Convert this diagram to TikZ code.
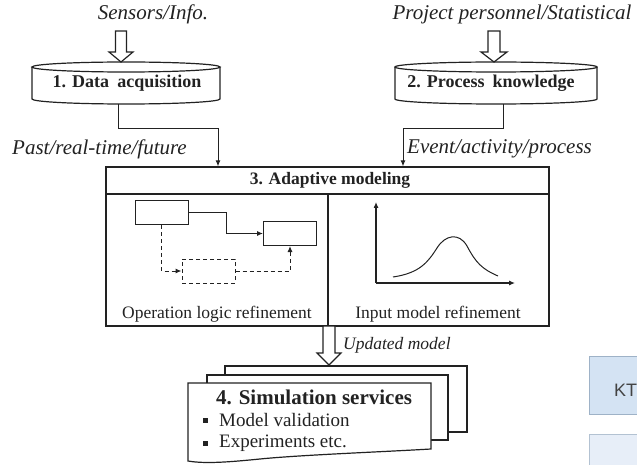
\documentclass[tikz,border=0pt]{standalone}
\usepackage{fontspec}
\setmainfont{Liberation Serif}[
  UprightFont=*, BoldFont=* Bold, ItalicFont=* Italic, BoldItalicFont=* Bold Italic]
\newfontfamily\uisans{Liberation Sans}
\usetikzlibrary{arrows.meta}
\definecolor{ink}{HTML}{222222}
\definecolor{tabA}{HTML}{D4E3F3}
\definecolor{tabAedge}{HTML}{9EB2C7}
\definecolor{tabB}{HTML}{E7EEF8}
\definecolor{tabBedge}{HTML}{B3C2D2}
% hollow block arrow: centre x, top y, head start y, tip y, shaft half width, head half width
\newcommand\blockarrow[6]{%
  \filldraw[outline, fill=white] (#1-#5,#2) -- (#1+#5,#2) -- (#1+#5,#3) -- (#1+#6,#3)
    -- (#1,#4) -- (#1-#6,#3) -- (#1-#5,#3) -- cycle;}
\begin{document}
\begin{tikzpicture}[x=1pt, y=-1pt, line join=miter,
  outline/.style={draw=ink, line width=1.2pt},
  fine/.style={draw=ink, line width=1pt},
  arr/.style={fine, -{Latex[length=6pt,width=5pt]}},
  lab/.style={font=\rmfamily\itshape\fontsize{21}{24}\selectfont, text=ink, inner sep=0pt},
  ttl/.style={font=\rmfamily\bfseries\fontsize{17.5}{20}\selectfont, text=ink, inner sep=0pt},
  txt/.style={font=\rmfamily\fontsize{17.5}{20}\selectfont, text=ink, inner sep=0pt},
  item/.style={font=\rmfamily\fontsize{19}{22}\selectfont, text=ink, inner sep=0pt, anchor=west},
  mini/.style={fine, minimum width=53, minimum height=24, inner sep=0pt}]
\useasboundingbox (0,0) rectangle (637,465);

% ---- sources ----
\node[lab] (src1) at (153,14) {Sensors/Info.};
\node[lab] (src2) at (512,14) {Project personnel/Statistical};
\blockarrow{121}{31}{52}{62}{5.5}{12}
\blockarrow{494}{31}{52}{62}{6}{13}

% ---- 1. data acquisition (drum) ----
\draw[outline] (126,67) ellipse [x radius=94, y radius=5];
\draw[outline] (32,67) -- (32,99) arc [start angle=180, end angle=0, x radius=94, y radius=5] -- (220,67);
\node[ttl, font=\rmfamily\bfseries\fontsize{18}{20}\selectfont, minimum width=188, minimum height=42] (c1) at (127,83) {1. Data\hspace{0.45em}acquisition};

% ---- 2. process knowledge (drum) ----
\draw[outline] (496,67) ellipse [x radius=101, y radius=5];
\draw[outline] (395,67) -- (395,99) arc [start angle=180, end angle=0, x radius=101, y radius=5] -- (597,67);
\node[ttl, font=\rmfamily\bfseries\fontsize{18}{20}\selectfont, minimum width=202, minimum height=42] (c2) at (491,83) {2. Process\hspace{0.45em}knowledge};

% ---- 3. adaptive modeling ----
\node[outline, minimum width=443, minimum height=159, inner sep=0pt] (m) at (327.5,246.5) {};
\draw[outline] (106,194) -- (549,194);
\draw[outline] (328,194) -- (328,326);
\node[ttl] (mt) at (330,180) {3. Adaptive modeling};

% data flows into the model
\draw[arr] ([xshift=-9]c1.south) -- ++(0,24) -| ([xshift=-109.5]m.north);
\draw[arr] ([xshift=12]c2.south) -- ++(0,24) -| ([xshift=75.5]m.north);
\node[lab, anchor=west] (l1) at (12,149) {Past/real-time/future};
\node[lab, anchor=west] (l2) at (407,149) {Event/activity/process};

% operation logic refinement sketch
\node[mini] (A) at (161.5,212.5) {};
\node[mini] (B) at (290,233.5) {};
\node[mini, dash pattern=on 4pt off 3pt] (C) at (208.5,271) {};
\draw[arr] (A.east) -- ++(38,0) |- (B.west);
\draw[arr, dash pattern=on 4pt off 3pt] (A.south) |- (C.west);
\draw[arr, dash pattern=on 4pt off 3pt] (C.east) -| (B.south);
\node[txt] (olr) at (217,314) {Operation logic refinement};

% input model refinement sketch
\coordinate (o) at (376,283);
\coordinate (ytop) at (376,202);
\coordinate (xend) at (515,283);
\draw[arr, line width=1.1pt] (o) -- (ytop);
\draw[arr, line width=1.1pt] (o) -- (xend);
\draw[fine] (393,277) .. controls (420,273) and (428,262) .. (437,248)
  .. controls (445,235) and (459,232) .. (467,246)
  .. controls (476,263) and (482,269) .. (498,276);
\node[txt] (imr) at (438,314) {Input model refinement};

% ---- 4. simulation services (stacked documents) ----
\filldraw[outline, fill=white] (225,366) rectangle (467,432);
\filldraw[outline, fill=white] (207,375) rectangle (448,440);
\filldraw[outline, fill=white] (188,383) -- (431,383) -- (431,449)
  .. controls (380,452) and (300,455) .. (260,459)
  .. controls (230,462) and (205,464) .. (188,461) -- cycle;
\node[inner sep=0pt, font=\rmfamily\bfseries\fontsize{21}{24}\selectfont, text=ink] (sim) at (314,397) {4. Simulation services};
\node[item] (i1) at (219,420) {Model validation};
\node[item] (i2) at (219,443) {Experiments etc.};
\fill[ink] ([xshift=-16,yshift=-2.5]i1.west) rectangle ++(5,-5);
\fill[ink] ([xshift=-16,yshift=-2.5]i2.west) rectangle ++(5,-5);

% model update
\blockarrow{329}{326}{353}{365}{6}{12}
\node[lab, font=\rmfamily\itshape\fontsize{17.5}{20}\selectfont, anchor=west] (upd) at (343,345) {Updated model};

% ---- side tabs ----
\filldraw[draw=tabAedge, fill=tabA, line width=0.8pt] (589,356) rectangle (660,414);
\node[anchor=west, inner sep=0pt, font=\uisans\fontsize{18}{20}\selectfont, text=ink!85] (kt) at (614,390) {KT};
\filldraw[draw=tabBedge, fill=tabB, line width=0.8pt] (589,434) rectangle (660,480);
\end{tikzpicture}
\end{document}
